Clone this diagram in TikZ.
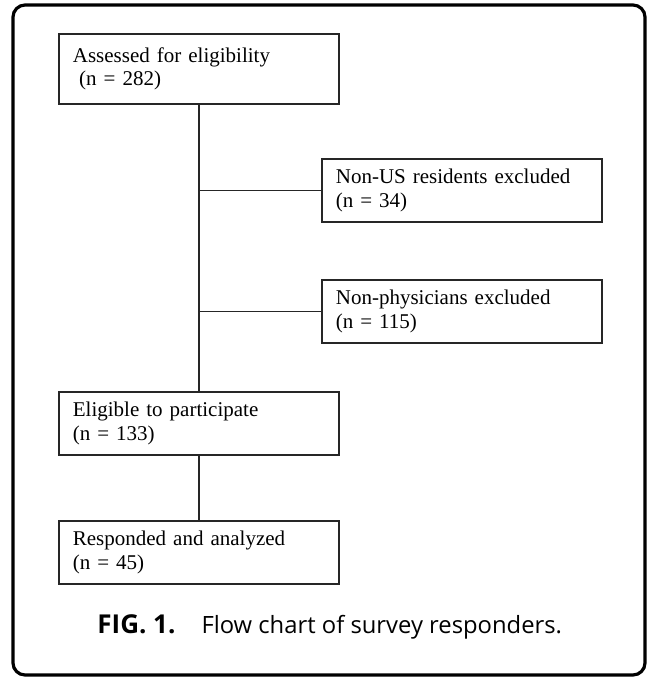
\documentclass[tikz,border=0pt]{standalone}
\usepackage{fontspec}
\setmainfont{Liberation Serif}
\newfontfamily\capfont{Open Sans}
\usetikzlibrary{positioning}
\tikzset{
  stage/.style={draw=black!85, line width=0.9pt, rectangle, anchor=north west,
    minimum height=31.5pt, text width=126pt, inner xsep=7pt, align=left,
    font=\fontsize{10.5}{11.8}\selectfont},
  conn/.style={draw=black!85, line width=0.9pt},
}
\begin{document}
\begin{tikzpicture}[x=0.5pt,y=-0.5pt]
    \useasboundingbox (0,0) rectangle (647,677);
    \draw[line width=1.6pt,rounded corners=6pt] (13,5) rectangle (645,675);
    \node[stage,minimum height=35pt] (assessed) at (58,33) {Assessed for eligibility\\\hspace*{0.3em}(n = 282)};
    \node[stage] (nonus) at (321,158) {Non-US residents excluded\\(n = 34)};
    \node[stage] (nonphys) at (321,279) {Non-physicians excluded\\(n = 115)};
    \node[stage] (eligible) at (58,391) {Eligible to participate\\(n = 133)};
    \node[stage] (responded) at (58,520) {Responded and analyzed\\(n = 45)};
    \draw[conn] (assessed.south) -- (eligible.north);
    \draw[conn] (eligible.south) -- (responded.north);
    \draw[conn] (nonus.west) -- (nonus.west -| assessed.south);
    \draw[conn] (nonphys.west) -- (nonphys.west -| assessed.south);
    \node[anchor=base west,inner sep=0pt,font=\capfont] (caption) at (97,633)
      {\fontsize{13}{15}\selectfont\textbf{FIG. 1.}\hspace{13pt}\fontsize{11.9}{15}\selectfont Flow chart of survey responders.};
\end{tikzpicture}
\end{document}
